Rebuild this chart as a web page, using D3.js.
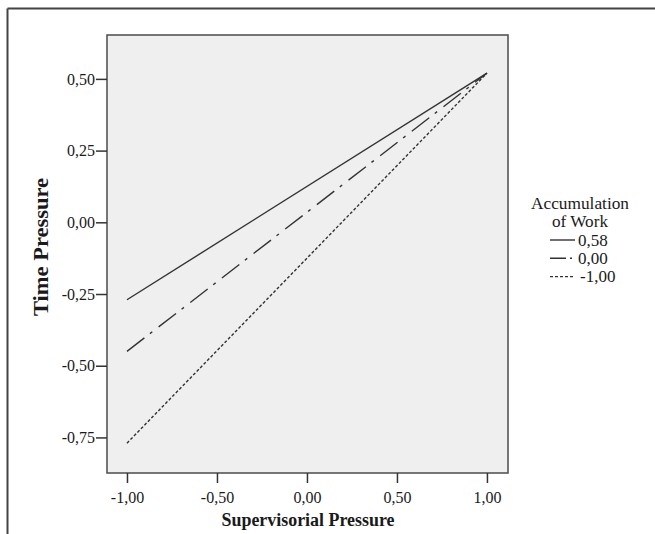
<!DOCTYPE html>
<html>
<head>
<meta charset="utf-8">
<script src="https://cdnjs.cloudflare.com/ajax/libs/d3/7.8.5/d3.min.js"></script>
<style>
  body { margin: 0; background: #fff; }
  svg { display: block; }
  .tick text { font-family: "Liberation Serif", "DejaVu Serif", serif; font-size: 16px; fill: #1a1a1a; }
  .tick line { stroke: #333; stroke-width: 1.5; }
</style>
</head>
<body>
<div id="chart"></div>
<script>
// chart data
const xTicks = [-1, -0.5, 0, 0.5, 1];
const yTicks = [-0.75, -0.5, -0.25, 0, 0.25, 0.5];
const xPoints = [-1, 1];
const levelLabels = ["0,58", "0,00", "-1,00"];
const lineHigh = [-0.27, 0.52];   // Accumulation of Work 0,58
const lineMid = [-0.45, 0.52];    // 0,00
const lineLow = [-0.77, 0.52];    // -1,00

const width = 655, height = 534;
const plot = { left: 107, right: 508, top: 35, bottom: 473 };

const svg = d3.select('#chart').append('svg')
  .attr('width', width)
  .attr('height', height);

// outer frame (top and left only visible)
svg.append('line').attr('x1', 7.5).attr('x2', width).attr('y1', 8.5).attr('y2', 8.5)
  .attr('stroke', '#444').attr('stroke-width', 2);
svg.append('line').attr('x1', 7.5).attr('x2', 7.5).attr('y1', 8.5).attr('y2', height)
  .attr('stroke', '#444').attr('stroke-width', 2);

const x = d3.scaleLinear().domain([-1.111, 1.117]).range([plot.left, plot.right]);
const y = d3.scaleLinear().domain([-0.874, 0.653]).range([plot.bottom, plot.top]);

const fmt = v => v.toFixed(2).replace('.', ',');

svg.append('rect')
  .attr('x', plot.left).attr('y', plot.top)
  .attr('width', plot.right - plot.left).attr('height', plot.bottom - plot.top)
  .attr('fill', '#efefef');

const series = [
  { label: levelLabels[0], values: lineHigh, dash: null, legendDash: null },
  { label: levelLabels[1], values: lineMid, dash: '22,7,3,8', legendDash: '16,4,2,20' },
  { label: levelLabels[2], values: lineLow, dash: '3,2', legendDash: '3,2' }
];

const line = d3.line()
  .x((d, i) => x(xPoints[i]))
  .y(d => y(d));

svg.selectAll('path.series')
  .data(series)
  .enter()
  .append('path')
  .attr('class', 'series')
  .attr('d', d => line(d.values))
  .attr('fill', 'none')
  .attr('stroke', '#333')
  .attr('stroke-width', 1.4)
  .attr('stroke-dasharray', d => d.dash);

svg.append('rect')
  .attr('x', plot.left).attr('y', plot.top)
  .attr('width', plot.right - plot.left).attr('height', plot.bottom - plot.top)
  .attr('fill', 'none')
  .attr('stroke', '#555')
  .attr('stroke-width', 1.6);

const xAxis = svg.append('g')
  .attr('transform', `translate(0,${plot.bottom})`)
  .call(d3.axisBottom(x).tickValues(xTicks).tickFormat(fmt).tickSize(10).tickPadding(4));
xAxis.select('.domain').remove();
xAxis.selectAll('text').attr('dy', '1em');

const yAxis = svg.append('g')
  .attr('transform', `translate(${plot.left},0)`)
  .call(d3.axisLeft(y).tickValues(yTicks).tickFormat(fmt).tickSize(11).tickPadding(1));
yAxis.select('.domain').remove();

// axis titles
svg.append('text')
  .attr('x', 308).attr('y', 526)
  .attr('text-anchor', 'middle')
  .attr('font-family', '"Liberation Serif", serif')
  .attr('font-weight', 'bold')
  .attr('font-size', 18)
  .attr('textLength', 173)
  .attr('lengthAdjust', 'spacingAndGlyphs')
  .attr('fill', '#1a1a1a')
  .text('Supervisorial Pressure');

svg.append('text')
  .attr('transform', 'translate(48,247) rotate(-90)')
  .attr('text-anchor', 'middle')
  .attr('font-family', '"Liberation Serif", serif')
  .attr('font-weight', 'bold')
  .attr('font-size', 20)
  .attr('textLength', 138)
  .attr('lengthAdjust', 'spacingAndGlyphs')
  .attr('fill', '#1a1a1a')
  .text('Time Pressure');

// legend
const legend = svg.append('g').attr('font-family', '"Liberation Serif", serif').attr('fill', '#1a1a1a');
legend.append('text').attr('x', 580).attr('y', 209).attr('text-anchor', 'middle')
  .attr('font-size', 17).attr('textLength', 98).attr('lengthAdjust', 'spacingAndGlyphs')
  .text('Accumulation');
legend.append('text').attr('x', 580).attr('y', 227).attr('text-anchor', 'middle')
  .attr('font-size', 17).attr('textLength', 56).attr('lengthAdjust', 'spacingAndGlyphs')
  .text('of Work');

const rows = legend.selectAll('g.row')
  .data(series)
  .enter()
  .append('g')
  .attr('class', 'row')
  .attr('transform', (d, i) => `translate(0,${240 + i * 18.3})`);

rows.append('line')
  .attr('x1', 550).attr('x2', 575)
  .attr('y1', 0).attr('y2', 0)
  .attr('stroke', '#333')
  .attr('stroke-width', 1.4)
  .attr('stroke-dasharray', d => d.legendDash);

rows.append('text')
  .attr('x', (d, i) => i === 2 ? 580 : 578)
  .attr('y', 5.5)
  .attr('font-size', 17)
  .text(d => d.label);
</script>
</body>
</html>
